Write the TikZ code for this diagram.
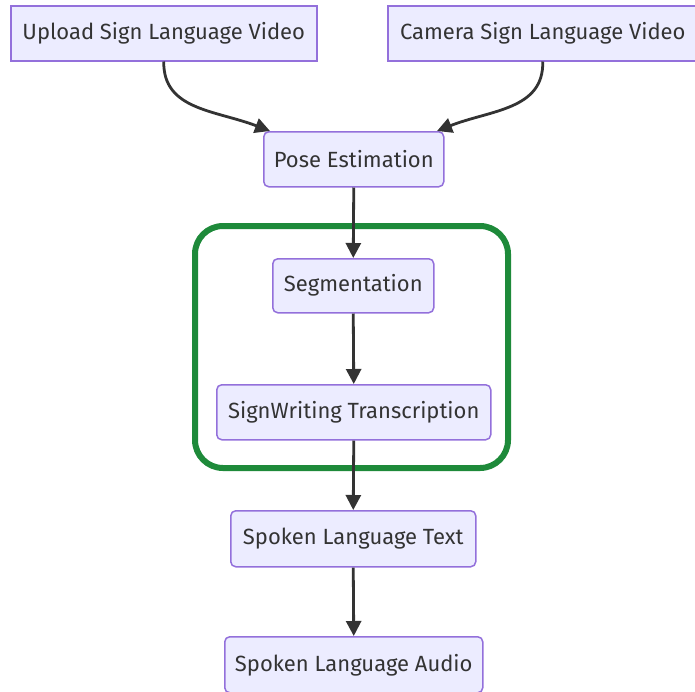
\documentclass[tikz,border=0pt]{standalone}
\usepackage{fontspec}
\setmainfont{Fira Sans}
\usetikzlibrary{arrows.meta}
\definecolor{nodefill}{HTML}{ECECFF}
\definecolor{nodeedge}{HTML}{9370DB}
\definecolor{txt}{HTML}{333333}
\definecolor{grp}{RGB}{30,138,58}
\begin{document}
\begin{tikzpicture}[x=1pt,y=-1pt,
  box/.style={draw=nodeedge,fill=nodefill,line width=1.5pt,text=txt,font=\fontsize{22}{26}\selectfont,inner sep=0pt,anchor=north west},
  rbox/.style={box,rounded corners=5pt},
  arr/.style={draw=txt,line width=2.8pt,-{Triangle[length=15pt,width=15pt]}}]
\useasboundingbox (0,0) rectangle (695,691);
\node[box,minimum width=306pt,minimum height=55pt] (up) at (10,5) {Upload Sign Language Video};
\node[box,minimum width=310pt,minimum height=55pt] (cam) at (387,5) {Camera Sign Language Video};
\node[rbox,minimum width=180pt,minimum height=55pt] (pose) at (263,131) {Pose Estimation};
\node[rbox,minimum width=161pt,minimum height=54pt] (seg) at (272,258) {Segmentation};
\node[rbox,minimum width=274pt,minimum height=55pt] (sw) at (216,384) {SignWriting Transcription};
\node[rbox,minimum width=245pt,minimum height=56pt] (slt) at (230,510) {Spoken Language Text};
\node[rbox,minimum width=258pt,minimum height=56pt] (sla) at (224,636) {Spoken Language Audio};
\draw[draw=grp,line width=6pt,rounded corners=28pt] (195,226) rectangle (508,468);
\coordinate (upend) at (270,131);
\coordinate (camend) at (437,131);
\draw[arr] (up.south) .. controls (163,110) and (215,110) .. (upend);
\draw[arr] (cam.south) .. controls (544,110) and (490,110) .. (camend);
\draw[arr] (pose.south) -- (seg.north);
\draw[arr] (seg.south) -- (sw.north);
\draw[arr] (sw.south) -- (slt.north);
\draw[arr] (slt.south) -- (sla.north);
\end{tikzpicture}
\end{document}
